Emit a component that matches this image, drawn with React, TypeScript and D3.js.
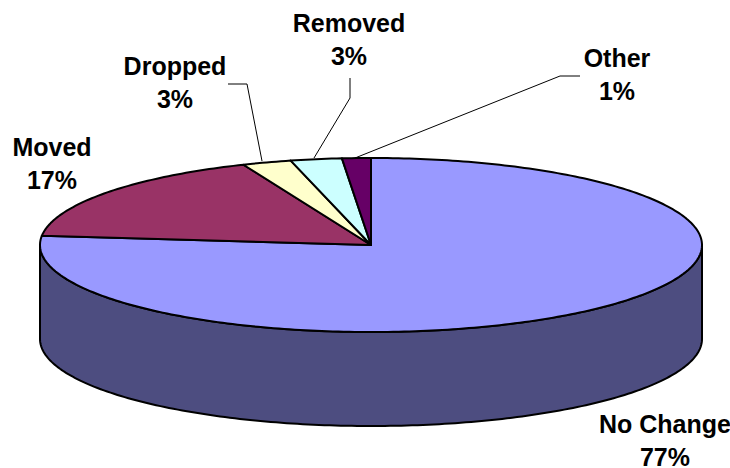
import React from "react";
import * as d3 from "d3";

const categories = ["No Change", "Moved", "Dropped", "Removed", "Other"];
const values = [76.7, 17.0, 2.4, 2.5, 1.4];
const labelsPct = ["77%", "17%", "3%", "3%", "1%"];
const colors = ["#9999FF", "#993366", "#FFFFCC", "#CCFFFF", "#660066"];
const wallColor = "#4D4D80";

const labelPos: [number, number][] = [[665, 433], [52, 156], [175, 75], [349, 32], [617, 67]];
const leaders: [number, number][][] = [
  [],
  [],
  [[228, 84], [247, 84], [262, 161]],
  [[350, 78], [350, 98], [314, 158]],
  [[355, 158], [560, 76], [580, 76]],
];

const cx = 371, cy = 245, rx = 331, ry = 87, depth = 94;

const px = d3.scaleLinear().domain([-1, 1]).range([cx - rx, cx + rx]);
const py = d3.scaleLinear().domain([-1, 1]).range([cy - ry, cy + ry]);
const pt = (a: number): [number, number] => [px(Math.sin(a)), py(-Math.cos(a))];

const line = d3.line<[number, number]>();

function arcPoints(a0: number, a1: number, dy = 0): [number, number][] {
  const n = Math.max(2, Math.ceil(Math.abs(a1 - a0) * 60));
  return d3.range(n + 1).map((i) => {
    const p = pt(a0 + ((a1 - a0) * i) / n);
    return [p[0], p[1] + dy] as [number, number];
  });
}

export default function App() {
  const arcs = d3.pie<number>().sort(null)(values);
  const front = arcPoints(Math.PI / 2, (3 * Math.PI) / 2);
  const back = arcPoints((3 * Math.PI) / 2, Math.PI / 2, depth);
  const ff = "'Liberation Sans', Arial, sans-serif";
  return (
    <svg width={730} height={468} style={{ position: "absolute", left: 0, top: 0, background: "#fff" }}>
      <path d={(line([...front, ...back]) ?? "") + "Z"} fill={wallColor} stroke="#000" strokeWidth={2} strokeLinejoin="round" />
      {arcs.map((a, i) => (
        <path
          key={categories[i]}
          d={(line([[cx, cy], ...arcPoints(a.startAngle, a.endAngle)]) ?? "") + "Z"}
          fill={colors[i]}
          stroke="#000"
          strokeWidth={2}
          strokeLinejoin="round"
        />
      ))}
      {leaders.map((l, i) =>
        l.length ? <path key={i} d={line(l) ?? ""} fill="none" stroke="#000" strokeWidth={1} /> : null
      )}
      {categories.map((c, i) => (
        <text key={c} textAnchor="middle" fontFamily={ff} fontWeight="bold" fontSize={25} fill="#000">
          <tspan x={labelPos[i][0]} y={labelPos[i][1]}>{c}</tspan>
          <tspan x={labelPos[i][0]} y={labelPos[i][1] + 33}>{labelsPct[i]}</tspan>
        </text>
      ))}
    </svg>
  );
}
